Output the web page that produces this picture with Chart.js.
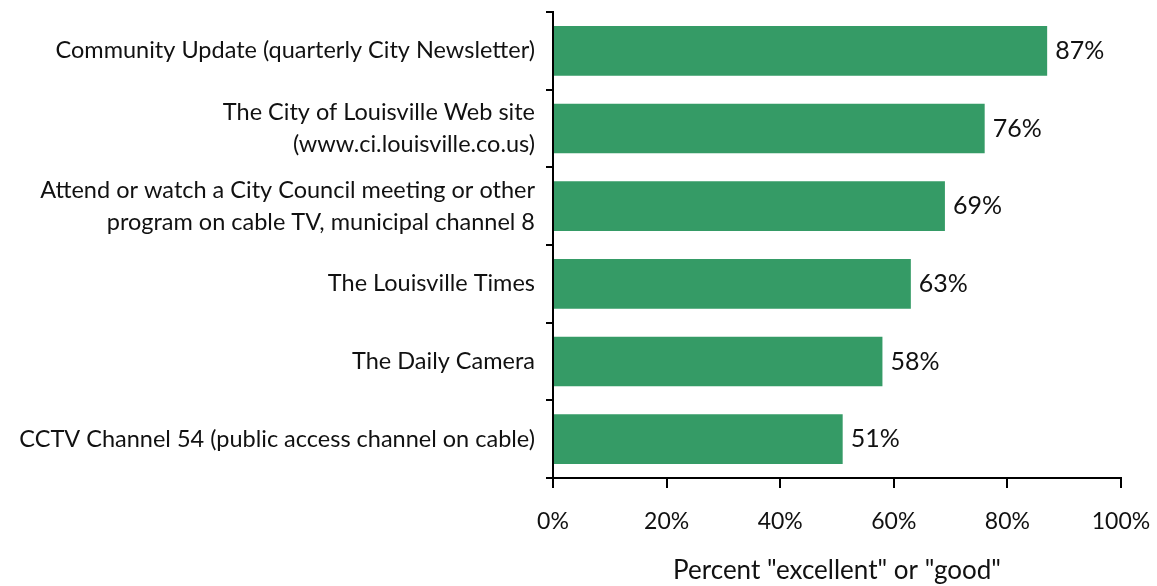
<!DOCTYPE html>
<html>
<head>
<meta charset="utf-8">
<script src="https://cdn.jsdelivr.net/npm/chart.js@4"></script>
<style>
  html, body { margin: 0; padding: 0; background: #fff; }
  #wrap { width: 1157px; height: 586px; }
</style>
</head>
<body>
<div id="wrap"><canvas id="ratingChart" width="1157" height="586"></canvas></div>
<script>
// source categories, top to bottom
const sources = [
    'Community Update (quarterly City Newsletter)',
    ['The City of Louisville Web site', '(www.ci.louisville.co.us)'],
    ['Attend or watch a City Council meeting or other', 'program on cable TV, municipal channel 8'],
    'The Louisville Times',
    'The Daily Camera',
    'CCTV Channel 54 (public access channel on cable)'
];
const percentGood = [87, 76, 69, 63, 58, 51];
const xTicks = [0, 20, 40, 60, 80, 100];

const fontFamily = 'Lato, "Open Sans", sans-serif';

// draws "87%" etc. just right of each bar
const valueLabels = {
    id: 'valueLabels',
    afterDatasetsDraw(chart) {
        const ctx = chart.ctx;
        const meta = chart.getDatasetMeta(0);
        ctx.save();
        ctx.font = '25px ' + fontFamily;
        ctx.fillStyle = '#111';
        ctx.textBaseline = 'middle';
        ctx.textAlign = 'left';
        meta.data.forEach(function (bar, i) {
            ctx.fillText(percentGood[i] + '%', bar.x + 8, bar.y);
        });
        ctx.restore();
    }
};

let ctx = document.getElementById('ratingChart').getContext('2d');
let myBarChart = new Chart(ctx, {
    type: 'bar',
    data: {
        labels: sources,
        datasets: [{
            data: percentGood,
            backgroundColor: 'rgb(53, 155, 102)',
            borderWidth: 0,
            barPercentage: 0.8,
            categoryPercentage: 0.8
        }]
    },
    options: {
        indexAxis: 'y',
        responsive: false,
        animation: false,
        layout: {
            padding: { top: 12, right: 36, left: 0, bottom: 0 }
        },
        plugins: {
            legend: { display: false },
            tooltip: { enabled: false }
        },
        scales: {
            y: {
                afterFit: function (scale) {
                    scale.width = 553;
                    scale.paddingTop = 0;
                    scale.paddingBottom = 0;
                },
                border: { color: '#000', width: 2 },
                grid: {
                    offset: true,
                    drawOnChartArea: false,
                    drawTicks: true,
                    tickLength: 7,
                    color: '#000',
                    lineWidth: 2
                },
                ticks: {
                    color: '#111',
                    padding: 11,
                    font: { family: fontFamily, size: 23.5, lineHeight: 1.38 }
                }
            },
            x: {
                min: 0,
                max: 100,
                afterFit: function (scale) {
                    scale.height = 108;
                    scale.paddingLeft = 0;
                    scale.paddingRight = 0;
                },
                afterBuildTicks: function (scale) {
                    scale.ticks = xTicks.map(function (v) { return { value: v }; });
                },
                border: { color: '#000', width: 2 },
                grid: {
                    drawOnChartArea: false,
                    drawTicks: true,
                    tickLength: 10,
                    color: '#000',
                    lineWidth: 2
                },
                ticks: {
                    color: '#111',
                    padding: 20,
                    maxRotation: 0,
                    font: { family: fontFamily, size: 23 },
                    callback: function (value) { return value + '%'; }
                },
                title: {
                    display: true,
                    text: 'Percent "excellent" or "good"',
                    color: '#111',
                    font: { family: fontFamily, size: 26 },
                    padding: { top: 15, bottom: 0 }
                }
            }
        }
    },
    plugins: [valueLabels]
});
</script>
</body>
</html>
